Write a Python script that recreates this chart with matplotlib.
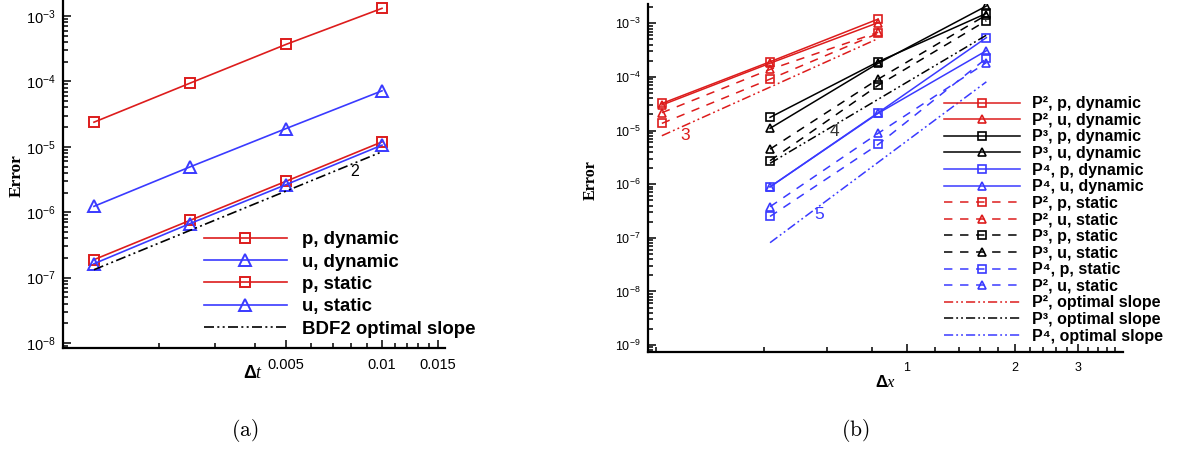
import matplotlib
matplotlib.use("Agg")
import matplotlib.pyplot as plt
import numpy as np
from matplotlib.ticker import LogLocator, LogFormatterSciNotation, FixedLocator, FixedFormatter, NullFormatter

plt.rcParams['font.family'] = ['Liberation Sans', 'DejaVu Sans']
plt.rcParams['mathtext.fontset'] = 'custom'
plt.rcParams['mathtext.rm'] = 'Liberation Sans'
plt.rcParams['mathtext.bf'] = 'Liberation Sans:bold'
plt.rcParams['mathtext.it'] = 'Liberation Serif:italic'
plt.rcParams['mathtext.default'] = 'regular'

RED = '#dd1c1c'
BLUE = '#3a3aff'
BLACK = '#000000'

# ---- panel (a): time convergence
dt = [0.00125, 0.0025, 0.005, 0.01]
p_dynamic = [2.38e-5, 9.4e-5, 3.68e-4, 1.31e-3]
u_dynamic = [1.23e-6, 4.93e-6, 1.9e-5, 7.18e-5]
p_static = [1.88e-7, 7.5e-7, 2.97e-6, 1.19e-5]
u_static = [1.63e-7, 6.7e-7, 2.64e-6, 1.06e-5]
bdf2_dt = [0.00125, 0.01]
bdf2_err = [1.32e-7, 8.4e-6]

# ---- panel (b): space convergence
h_p2 = [0.2083, 0.4167, 0.8333]
h_p34 = [0.4167, 0.8333, 1.6667]
p2_dyn = [3.2e-5, 1.92e-4, 1.2e-3]
u2_dyn = [2.99e-5, 1.8e-4, 1.03e-3]
p3_dyn = [1.76e-5, 1.92e-4, 1.53e-3]
u3_dyn = [1.1e-5, 1.8e-4, 2.1e-3]
p4_dyn = [8.9e-7, 2.15e-5, 5.4e-4]
u4_dyn = [8.9e-7, 2.1e-5, 3.08e-4]
p2_sta = [1.36e-5, 9.1e-5, 6.5e-4]
u2_sta = [2.15e-5, 1.38e-4, 6.8e-4]
p3_sta = [2.74e-6, 6.97e-5, 1.12e-3]
u3_sta = [4.5e-6, 9.1e-5, 1.43e-3]
p4_sta = [2.5e-7, 5.5e-6, 2.22e-4]
u4_sta = [3.8e-7, 8.9e-6, 1.85e-4]
slope2_h = [0.2083, 0.8333]
slope2_err = [8.0e-6, 5.2e-4]
slope3_h = [0.4167, 1.6667]
slope3_err = [2.45e-6, 6.0e-4]
slope4_h = [0.4167, 1.6667]
slope4_err = [8.1e-8, 8.1e-5]

DASH = (0, (5.5, 5))
DDOT = (0, (6, 2, 1.2, 2, 1.2, 2))

fig = plt.figure(figsize=(11.94, 4.5), dpi=100)
axa = fig.add_axes([0.0528, 0.2267, 0.3199, 0.7733])
axb = fig.add_axes([0.5423, 0.2178, 0.3982, 0.7733])


def style_axis(ax, tick_size):
    ax.set_xscale('log')
    ax.set_yscale('log')
    for s in ['top', 'right']:
        ax.spines[s].set_visible(False)
    for s in ['left', 'bottom']:
        ax.spines[s].set_linewidth(1.6)
    ax.yaxis.set_major_locator(LogLocator(base=10, numticks=20))
    ax.yaxis.set_minor_locator(LogLocator(base=10, subs=np.arange(2, 10), numticks=20))
    ax.yaxis.set_major_formatter(LogFormatterSciNotation())
    ax.yaxis.set_minor_formatter(NullFormatter())
    ax.tick_params(which='both', direction='in', labelsize=tick_size, width=1.1)
    ax.tick_params(which='major', length=6)
    ax.tick_params(which='minor', length=3.5)
    ax.tick_params(axis='y', pad=5)
    ax.tick_params(axis='x', pad=7)


# ---------------- panel (a)
style_axis(axa, 10.5)
axa.plot(dt, p_dynamic, color=RED, lw=1.2, marker='s', ms=7.5, mfc='none', mew=1.4, label='p, dynamic')
axa.plot(dt, u_dynamic, color=BLUE, lw=1.2, marker='^', ms=8.5, mfc='none', mew=1.4, label='u, dynamic')
axa.plot(dt, p_static, color=RED, lw=1.2, marker='s', ms=7.5, mfc='none', mew=1.4, label='p, static')
axa.plot(dt, u_static, color=BLUE, lw=1.2, marker='^', ms=8.5, mfc='none', mew=1.4, label='u, static')
axa.plot(bdf2_dt, bdf2_err, color=BLACK, lw=1.2, ls=DDOT, label='BDF2 optimal slope')
axa.text(0.0082, 4.16e-6, '2', fontsize=11.5, ha='center', va='center')
axa.set_xlim(0.001, 0.01576)
axa.set_ylim(10 ** -8.076, 10 ** -2.755)
axa.xaxis.set_major_locator(FixedLocator([0.005, 0.01, 0.015]))
axa.xaxis.set_major_formatter(FixedFormatter(['0.005', '0.01', '0.015']))
axa.xaxis.set_minor_locator(FixedLocator([0.002, 0.003, 0.004, 0.006, 0.007, 0.008, 0.009,
                                          0.011, 0.012, 0.013, 0.014]))
axa.xaxis.set_minor_formatter(NullFormatter())
axa.legend(loc='upper left', bbox_to_anchor=(0.368, 0.336), frameon=False,
           prop={'weight': 'bold', 'size': 13.4}, handlelength=4.5, handletextpad=0.8,
           labelspacing=0.29, borderpad=0, borderaxespad=0)

# ---------------- panel (b)
style_axis(axb, 9)
axb.plot(h_p2, p2_dyn, color=RED, lw=1.1, marker='s', ms=5.5, mfc='none', mew=1.2, label='P², p, dynamic')
axb.plot(h_p2, u2_dyn, color=RED, lw=1.1, marker='^', ms=6, mfc='none', mew=1.2, label='P², u, dynamic')
axb.plot(h_p34, p3_dyn, color=BLACK, lw=1.1, marker='s', ms=5.5, mfc='none', mew=1.2, label='P³, p, dynamic')
axb.plot(h_p34, u3_dyn, color=BLACK, lw=1.1, marker='^', ms=6, mfc='none', mew=1.2, label='P³, u, dynamic')
axb.plot(h_p34, p4_dyn, color=BLUE, lw=1.1, marker='s', ms=5.5, mfc='none', mew=1.2, label='P⁴, p, dynamic')
axb.plot(h_p34, u4_dyn, color=BLUE, lw=1.1, marker='^', ms=6, mfc='none', mew=1.2, label='P⁴, u, dynamic')
axb.plot(h_p2, p2_sta, color=RED, lw=1.1, ls=DASH, marker='s', ms=5.5, mfc='none', mew=1.2, label='P², p, static')
axb.plot(h_p2, u2_sta, color=RED, lw=1.1, ls=DASH, marker='^', ms=6, mfc='none', mew=1.2, label='P², u, static')
axb.plot(h_p34, p3_sta, color=BLACK, lw=1.1, ls=DASH, marker='s', ms=5.5, mfc='none', mew=1.2, label='P³, p, static')
axb.plot(h_p34, u3_sta, color=BLACK, lw=1.1, ls=DASH, marker='^', ms=6, mfc='none', mew=1.2, label='P³, u, static')
axb.plot(h_p34, p4_sta, color=BLUE, lw=1.1, ls=DASH, marker='s', ms=5.5, mfc='none', mew=1.2, label='P⁴, p, static')
axb.plot(h_p34, u4_sta, color=BLUE, lw=1.1, ls=DASH, marker='^', ms=6, mfc='none', mew=1.2, label='P², u, static')
axb.plot(slope2_h, slope2_err, color=RED, lw=1.1, ls=DDOT, label='P², optimal slope')
axb.plot(slope3_h, slope3_err, color=BLACK, lw=1.1, ls=DDOT, label='P³, optimal slope')
axb.plot(slope4_h, slope4_err, color=BLUE, lw=1.1, ls=DDOT, label='P⁴, optimal slope')
axb.text(0.242, 8.0e-6, '3', color=RED, fontsize=12.5, ha='center', va='center')
axb.text(0.628, 9.5e-6, '4', color='#333333', fontsize=12.5, ha='center', va='center')
axb.text(0.571, 2.77e-7, '5', color=BLUE, fontsize=12.5, ha='center', va='center')
axb.set_xlim(0.19, 4.0)
axb.set_ylim(10 ** -9.13, 10 ** -2.64)
axb.xaxis.set_major_locator(FixedLocator([1, 2, 3]))
axb.xaxis.set_major_formatter(FixedFormatter(['1', '2', '3']))
axb.xaxis.set_minor_locator(FixedLocator([0.2, 0.4, 0.6, 0.8, 1.2, 1.4, 1.6, 1.8,
                                          2.2, 2.4, 2.6, 2.8, 3.2, 3.4, 3.6, 3.8]))
axb.xaxis.set_minor_formatter(NullFormatter())
axb.legend(loc='upper left', bbox_to_anchor=(0.623, 0.735), frameon=False,
           prop={'weight': 'bold', 'size': 11.5}, handlelength=4.8, handletextpad=0.75,
           labelspacing=0.1, borderpad=0, borderaxespad=0)

# ---------------- labels
fig.text(17 / 1194, 1 - 176 / 450, 'Error', family='Liberation Serif', weight='bold',
         fontsize=12.5, rotation=90, ha='center', va='center')
fig.text(591 / 1194, 1 - 180 / 450, 'Error', family='Liberation Serif', weight='bold',
         fontsize=11.5, rotation=90, ha='center', va='center')
fig.text(253 / 1194, 1 - 373 / 450, r'$\mathbf{\Delta}\mathit{t}$', fontsize=13, ha='center', va='center')
fig.text(886 / 1194, 1 - 382 / 450, r'$\mathbf{\Delta}\mathit{x}$', fontsize=12, ha='center', va='center')
fig.text(245 / 1194, 1 - 430 / 450, r'$\mathrm{(a)}$', math_fontfamily='cm', fontsize=15.5,
         ha='center', va='center')
fig.text(855 / 1194, 1 - 430 / 450, r'$\mathrm{(b)}$', math_fontfamily='cm', fontsize=15.5,
         ha='center', va='center')

fig.savefig('out.png', dpi=100)
